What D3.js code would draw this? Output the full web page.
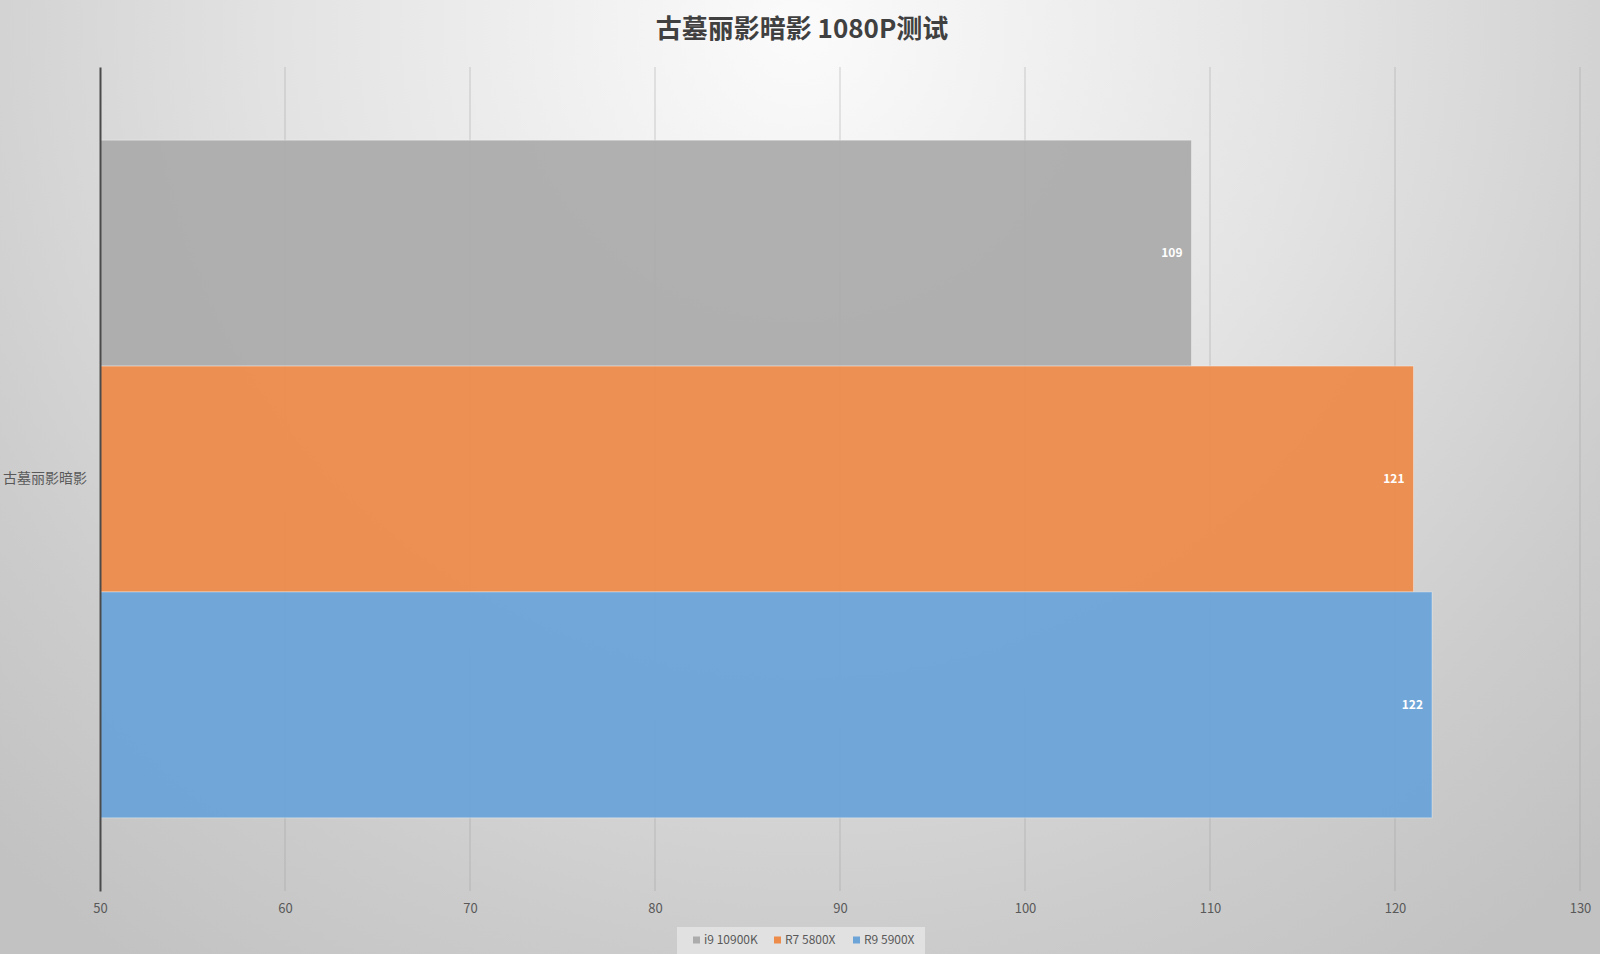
<!DOCTYPE html>
<html lang="zh">
<head>
    <meta charset="UTF-8">
    <title>古墓丽影暗影 1080P测试</title>
    <script src="https://d3js.org/d3.v7.min.js"></script>
    <style>
        body {
            margin: 0;
            overflow: hidden;
        }
        text {
            font-family: "Noto Sans CJK SC", "Noto Sans", sans-serif;
        }
    </style>
</head>
<body>
<div id="chart"></div>
<script>
    // 数据
    const categories = ["古墓丽影暗影"];
    const seriesNames = ["i9 10900K", "R7 5800X", "R9 5900X"];
    const seriesValues = [109, 121, 122];
    const seriesColors = ["#acacac", "#ed8b4b", "#6ca4d8"];
    const xTicks = [50, 60, 70, 80, 90, 100, 110, 120, 130];

    const W = 1600, H = 954;
    const margin = {top: 67, right: 20, bottom: 63, left: 100};

    const svg = d3.select("#chart")
        .append("svg")
        .attr("width", W)
        .attr("height", H);

    // background gradient
    const defs = svg.append("defs");
    const grad = defs.append("radialGradient")
        .attr("id", "bg")
        .attr("gradientUnits", "userSpaceOnUse")
        .attr("cx", 800).attr("cy", 30)
        .attr("r", 1150);
    grad.append("stop").attr("offset", 0).attr("stop-color", "#fbfbfb");
    grad.append("stop").attr("offset", 0.45).attr("stop-color", "#e3e3e3");
    grad.append("stop").attr("offset", 0.8).attr("stop-color", "#cccccc");
    grad.append("stop").attr("offset", 1).attr("stop-color", "#c2c2c2");

    svg.append("rect")
        .attr("width", W)
        .attr("height", H)
        .attr("fill", "url(#bg)");

    const x = d3.scaleLinear()
        .domain([50, 130])
        .range([margin.left, 1580]);

    const y0 = d3.scaleBand()
        .domain(categories)
        .range([margin.top, 891])
        .paddingInner(0)
        .paddingOuter(0.108);

    const y1 = d3.scaleBand()
        .domain(seriesNames)
        .range([0, y0.bandwidth()]);

    // gridlines
    svg.append("g")
        .selectAll("line")
        .data(xTicks.slice(1))
        .enter()
        .append("line")
        .attr("x1", d => x(d))
        .attr("x2", d => x(d))
        .attr("y1", margin.top)
        .attr("y2", 891)
        .attr("stroke", "#9a9a9a")
        .attr("stroke-opacity", 0.45)
        .attr("stroke-width", 1);

    // bars
    const bars = svg.append("g");
    categories.forEach(cat => {
        bars.selectAll(null)
            .data(seriesNames)
            .enter()
            .append("rect")
            .attr("x", x(50))
            .attr("y", d => y0(cat) + y1(d))
            .attr("width", (d, i) => x(seriesValues[i]) - x(50))
            .attr("height", y1.bandwidth())
            .attr("fill", (d, i) => seriesColors[i])
            .attr("fill-opacity", 0.95)
            .attr("stroke", "#ffffff")
            .attr("stroke-opacity", 0.35)
            .attr("stroke-width", 1);

        bars.selectAll(null)
            .data(seriesNames)
            .enter()
            .append("text")
            .attr("x", (d, i) => x(seriesValues[i]) - 9)
            .attr("y", d => y0(cat) + y1(d) + y1.bandwidth() / 2)
            .attr("dy", "0.35em")
            .attr("text-anchor", "end")
            .attr("fill", "#ffffff")
            .attr("font-size", 12)
            .attr("font-weight", "bold")
            .text((d, i) => seriesValues[i]);
    });

    // x axis
    const xAxis = svg.append("g")
        .attr("transform", "translate(0,891)")
        .call(d3.axisBottom(x).tickValues(xTicks).tickSize(0).tickPadding(13));
    xAxis.select(".domain").remove();
    xAxis.selectAll("text")
        .attr("fill", "#595959")
        .attr("font-size", 13)
        .style("font-family", "'Noto Sans CJK SC', sans-serif");

    // y axis
    const yAxis = svg.append("g")
        .attr("transform", `translate(${margin.left},0)`)
        .call(d3.axisLeft(y0).tickSize(0).tickPadding(13));
    yAxis.select(".domain")
        .attr("stroke", "#4a4a4a")
        .attr("stroke-width", 2);
    yAxis.selectAll("text")
        .attr("fill", "#595959")
        .attr("font-size", 14)
        .style("font-family", "'Noto Sans CJK SC', sans-serif");

    // title
    svg.append("text")
        .attr("x", 802)
        .attr("y", 38)
        .attr("text-anchor", "middle")
        .attr("fill", "#404040")
        .attr("font-size", 26)
        .attr("font-weight", "bold")
        .text("古墓丽影暗影 1080P测试");

    // legend
    const legend = svg.append("g");
    legend.append("rect")
        .attr("x", 677)
        .attr("y", 927)
        .attr("width", 248)
        .attr("height", 27)
        .attr("fill", "#e6e6e6")
        .attr("fill-opacity", 0.8);

    const legendX = [693, 774, 853];
    const item = legend.selectAll("g")
        .data(seriesNames)
        .enter()
        .append("g")
        .attr("transform", (d, i) => `translate(${legendX[i]},940)`);
    item.append("rect")
        .attr("x", 0)
        .attr("y", -3.5)
        .attr("width", 7)
        .attr("height", 7)
        .attr("fill", (d, i) => seriesColors[i]);
    item.append("text")
        .attr("x", 11)
        .attr("y", 0)
        .attr("dy", "0.35em")
        .attr("fill", "#595959")
        .attr("font-size", 12)
        .text(d => d);
</script>
</body>
</html>
